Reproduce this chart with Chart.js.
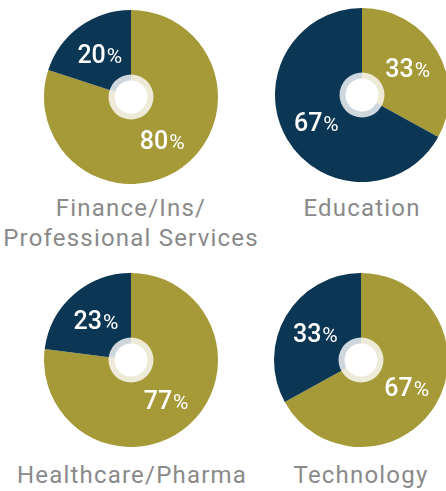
<!DOCTYPE html>
<html>
<head>
<meta charset="utf-8">
<script src="https://cdn.jsdelivr.net/npm/chart.js@4.4.1/dist/chart.umd.min.js"></script>
<style>
  html, body { margin: 0; padding: 0; background: #fff; }
  body { width: 446px; height: 491px; overflow: hidden; position: relative; }
  .pie { position: absolute; width: 174px; height: 174px; }
  .cat {
    position: absolute;
    width: 300px;
    margin-left: -150px;
    text-align: center;
    font-family: Roboto, "Noto Sans", sans-serif;
    font-size: 24px;
    line-height: 30px;
    letter-spacing: 1.2px;
    color: #8a8a8a;
    white-space: nowrap;
  }
</style>
</head>
<body>
<div class="pie" style="left:44px; top:10px"><canvas id="pie0" width="174" height="174"></canvas></div>
<div class="pie" style="left:275px; top:8px"><canvas id="pie1" width="174" height="174"></canvas></div>
<div class="pie" style="left:44px; top:273px"><canvas id="pie2" width="174" height="174"></canvas></div>
<div class="pie" style="left:274px; top:273px"><canvas id="pie3" width="174" height="174"></canvas></div>

<div class="cat" id="cat0" style="left:131px; top:193px"></div>
<div class="cat" id="cat1" style="left:362px; top:193px"></div>
<div class="cat" id="cat2" style="left:132px; top:460px"></div>
<div class="cat" id="cat3" style="left:361px; top:460px"></div>

<script>
// sectors and their shares (first value = olive, second = navy)
var sectors = ["Finance/Ins/\nProfessional Services", "Education", "Healthcare/Pharma", "Technology"];
var oliveShare = [80, 33, 77, 67];
var navyShare = [20, 67, 23, 33];
var sliceColors = ["#a59a37", "#0c3754"];

// draws the percent labels and the little ring in the middle
var pieLabels = {
  id: "pieLabels",
  afterDatasetsDraw: function (chart) {
    var ctx = chart.ctx;
    var meta = chart.getDatasetMeta(0);
    var values = chart.data.datasets[0].data;
    meta.data.forEach(function (arc, i) {
      var mid = (arc.startAngle + arc.endAngle) / 2;
      var r = arc.outerRadius * 0.61;
      var x = arc.x + Math.cos(mid) * r;
      var y = arc.y + Math.sin(mid) * r;
      var num = String(values[i]);
      ctx.save();
      ctx.fillStyle = "#ffffff";
      ctx.textBaseline = "alphabetic";
      ctx.font = "500 25px Roboto";
      var w1 = ctx.measureText(num).width;
      ctx.font = "400 21px Roboto";
      var w2 = ctx.measureText("%").width;
      var left = x - (w1 + w2 + 1) / 2;
      ctx.font = "500 25px Roboto";
      ctx.fillText(num, left, y + 9);
      ctx.font = "400 21px Roboto";
      ctx.fillText("%", left + w1 + 1, y + 9);
      ctx.restore();
    });
    var c = meta.data[0];
    ctx.save();
    ctx.beginPath();
    ctx.arc(c.x, c.y, 22.5, 0, Math.PI * 2);
    ctx.fillStyle = "rgba(255,255,255,0.8)";
    ctx.fill();
    ctx.beginPath();
    ctx.arc(c.x, c.y, 16.5, 0, Math.PI * 2);
    ctx.fillStyle = "#ffffff";
    ctx.fill();
    ctx.restore();
  }
};

function drawPie(i) {
  new Chart(document.getElementById("pie" + i), {
    type: "pie",
    data: {
      labels: ["", ""],
      datasets: [
        {
          data: [oliveShare[i], navyShare[i]],
          backgroundColor: sliceColors,
          borderWidth: 0,
        },
      ],
    },
    options: {
      responsive: false,
      animation: false,
      layout: { padding: 0 },
      plugins: {
        legend: { display: false },
        tooltip: { enabled: false },
      },
    },
    plugins: [pieLabels],
  });
  document.getElementById("cat" + i).innerText = sectors[i];
}

document.addEventListener("DOMContentLoaded", function () {
  for (var i = 0; i < sectors.length; i++) {
    drawPie(i);
  }
});
</script>
</body>
</html>
